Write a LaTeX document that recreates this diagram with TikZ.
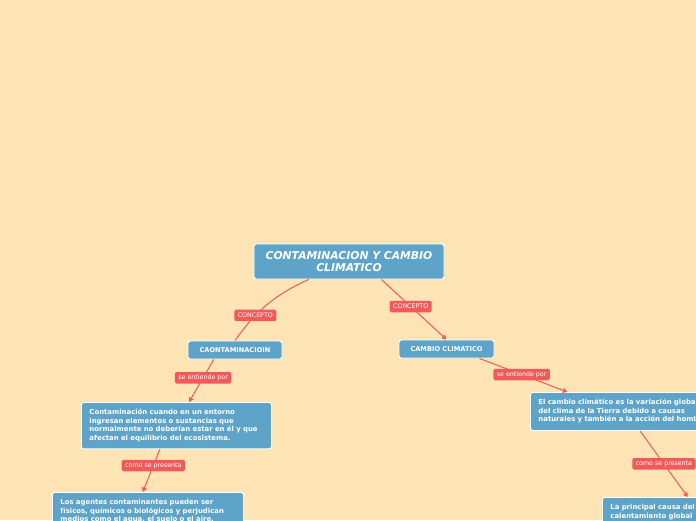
\documentclass[tikz,border=0pt]{standalone}
\usepackage{fontspec}
\setmainfont{DejaVu Sans}
\usetikzlibrary{arrows.meta,positioning,calc}
\definecolor{MapBack}{HTML}{FFE4B5}
\definecolor{MapBlue}{HTML}{5DA4C8}
\definecolor{MapRed}{HTML}{F05A5A}

\begin{document}
\begin{tikzpicture}[x=1pt,y=-1pt,>={Triangle[length=4.5pt,width=5pt]}]
  \tikzstyle{topic}=[rounded corners=2.5pt, draw=white, line width=0.9pt, fill=MapBlue, text=white, align=left, anchor=north west, inner xsep=8pt, inner ysep=7pt, font=\bfseries\fontsize{6.9}{8.5}\selectfont]
  \tikzstyle{tag}=[rounded corners=1.5pt, fill=MapRed, text=white, inner xsep=3.5pt, inner ysep=0pt, minimum height=11.5pt, font=\fontsize{6.3}{7}\selectfont]
  \tikzstyle{link}=[draw=MapRed, line width=1pt]
  \path[use as bounding box, fill=MapBack] (0,0) rectangle (696,520);
  \clip (0,0) rectangle (696,520);
  % central topic and the two concepts
  \node[topic, anchor=center, minimum width=190pt, minimum height=35pt, align=center, inner sep=0pt, font=\bfseries\itshape\fontsize{10.8}{12.5}\selectfont] (root) at (349,261.5) {CONTAMINACION Y CAMBIO\\CLIMATICO};
  \node[topic, anchor=center, minimum width=94pt, minimum height=18pt, inner sep=0pt, font=\bfseries\fontsize{6.6}{8}\selectfont] (caont) at (235,350) {CAONTAMINACIOIN};
  \node[topic, anchor=center, minimum width=95pt, minimum height=18pt, inner sep=0pt, font=\bfseries\fontsize{6.6}{8}\selectfont] (cc) at (446.5,349) {CAMBIO CLIMATICO};
  % left branch
  \node[topic, text width=174pt] (defl) at (81,402) {Contaminación cuando en un entorno\\ingresan elementos o sustancias que\\normalmente no deberían estar en él y que\\afectan el equilibrio del ecosistema.};
  \node[topic, text width=175pt] (agl) at (52,492) {Los agentes contaminantes pueden ser\\físicos, químicos o biológicos y perjudican\\medios como el agua, el suelo o el aire.};
  % right branch
  \node[topic, text width=185pt] (rb3) at (530,392) {El cambio climático es la variación global\\del clima de la Tierra debido a causas\\naturales y también a la acción del hombre.};
  \node[topic, text width=180pt] (rb4) at (602,497) {La principal causa del\\calentamiento global};
  % connectors
  \draw[link] (root.204) to[bend right=15] node[tag, pos=0.68] (t1) {CONCEPTO} (caont.north);
  \draw[link,->] (root.331) -- node[tag, pos=0.45] (t2) {CONCEPTO} (cc.north);
  \draw[link,->] (caont.204) -- node[tag, pos=0.43] (t3) {se entiende por} (defl.62);
  \draw[link,->] (cc.344) -- node[tag, pos=0.48] (t4) {se entiende por} (rb3.163);
  \draw[link,->] (defl.235) -- node[tag, pos=0.38] (t5) {como se presenta} (agl.105);
  \draw[link,->] (rb3.295) -- node[tag, pos=0.5] (t6) {como se presenta} (rb4.130);
\end{tikzpicture}
\end{document}
